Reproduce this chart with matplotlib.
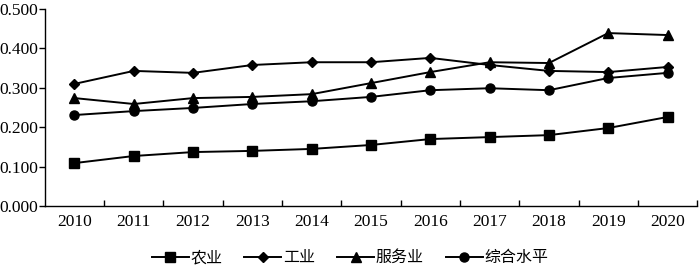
import matplotlib
matplotlib.use("Agg")
import matplotlib.pyplot as plt

years = ["2010", "2011", "2012", "2013", "2014", "2015",
         "2016", "2017", "2018", "2019", "2020"]
agriculture = [0.109, 0.127, 0.137, 0.140, 0.145, 0.155,
               0.170, 0.175, 0.180, 0.198, 0.226]
industry = [0.310, 0.343, 0.338, 0.358, 0.365, 0.365,
            0.376, 0.358, 0.343, 0.340, 0.353]
services = [0.274, 0.259, 0.274, 0.277, 0.284, 0.312,
            0.340, 0.365, 0.363, 0.439, 0.434]
overall = [0.231, 0.241, 0.249, 0.259, 0.266, 0.277,
           0.294, 0.299, 0.294, 0.325, 0.338]
series_names = ["农业", "工业", "服务业", "综合水平"]

plt.rcParams["font.family"] = ["Liberation Serif", "Noto Sans CJK SC"]

fig = plt.figure(figsize=(7, 2.74), dpi=100)
ax = fig.add_axes([0.064, 0.248, 0.932, 0.719])

x = list(range(len(years)))
styles = [("s", 7), ("D", 5.5), ("^", 7), ("o", 6.5)]
for vals, name, (mk, ms) in zip([agriculture, industry, services, overall],
                                series_names, styles):
    ax.plot(x, vals, color="black", lw=1.4, marker=mk, markersize=ms,
            label=name)

ax.set_xlim(-0.5, len(years) - 0.5)
ax.set_ylim(0, 0.5)
ax.set_yticks([0, 0.1, 0.2, 0.3, 0.4, 0.5])
ax.set_yticklabels([f"{v:.3f}" for v in [0, 0.1, 0.2, 0.3, 0.4, 0.5]])
ax.set_xticks(x)
ax.set_xticklabels(years)
ax.set_xticks([i + 0.5 for i in x], minor=True)
ax.tick_params(axis="x", which="major", length=0, labelsize=12.5, pad=6)
ax.tick_params(axis="x", which="minor", direction="in", length=4, width=1)
ax.tick_params(axis="y", direction="out", length=4, width=1,
               labelsize=12.5, pad=1)
for side in ("top", "right"):
    ax.spines[side].set_visible(False)
for side in ("left", "bottom"):
    ax.spines[side].set_linewidth(1)

fig.legend(loc="center", bbox_to_anchor=(0.5, 0.058), ncol=4, frameon=False,
           fontsize=11.5, handlelength=2.3, handletextpad=0.1,
           columnspacing=1.4)

fig.savefig("out.png", dpi=100)
